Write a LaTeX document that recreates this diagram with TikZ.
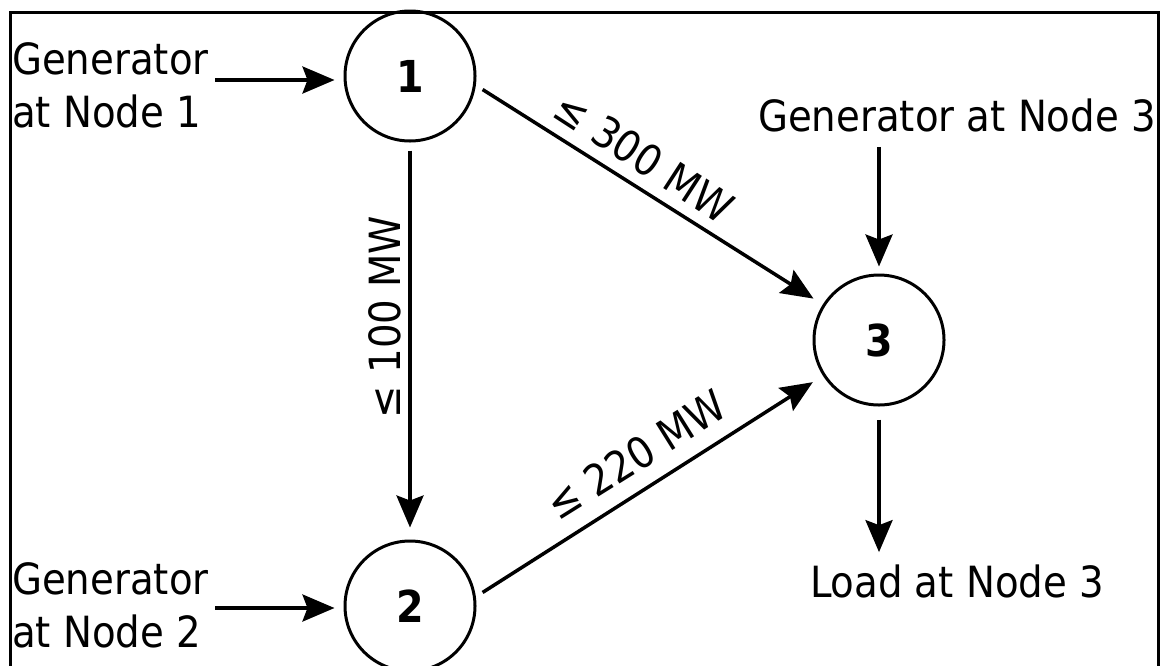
\documentclass[tikz,border=0pt]{standalone}
\usepackage{fontspec}
\setmainfont{DejaVu Sans Condensed}
\usetikzlibrary{arrows.meta}
\begin{document}
\begin{tikzpicture}[x=1pt,y=-1pt,
  bus/.style={circle,draw,line width=3pt,minimum size=130pt,inner sep=0pt,font=\fontsize{44}{44}\selectfont\bfseries},
  lbl/.style={font=\fontsize{43}{53}\selectfont,inner sep=0pt,align=left},
  txt/.style={font=\fontsize{43}{43}\selectfont,inner sep=0pt},
  arr/.style={line width=3.5pt,-{Stealth[length=32pt,width=27pt,inset=5pt]}}]
\useasboundingbox (0,0) rectangle (1161,665);
\draw[line width=3pt] (10,12) rectangle (1158,720);
\node[bus] (n1) at (410,76) {1};
\node[bus] (n2) at (410,606) {2};
\node[bus] (n3) at (879,340) {3};
\node[lbl,anchor=north west] (g1) at (12,42) {Generator\\at Node 1};
\node[lbl,anchor=north west] (g2) at (12,562) {Generator\\at Node 2};
\node[txt,anchor=base] (g3) at (957,131) {Generator at Node 3};
\node[txt,anchor=base] (ld) at (957,597) {Load at Node 3};
\coordinate (a1) at (215,80);
\coordinate (a2) at (215,608);
\draw[arr,shorten >=9pt] (a1) -- (n1.west |- a1);
\draw[arr,shorten >=9pt] (a2) -- (n2.west |- a2);
\draw[arr,shorten <=8pt,shorten >=12pt] (n1.south) -- (n2.north);
\draw[arr,shorten <=8pt,shorten >=11pt] (n1.-8) -- (n3);
\draw[arr,shorten <=8pt,shorten >=12pt] (n2.8) -- (n3);
\draw[arr,shorten <=15pt,shorten >=7pt] (g3.south -| n3) -- (n3.north);
\draw[arr,shorten <=13pt,shorten >=12pt] (n3.south) -- (ld.north -| n3);
\node[txt,rotate=-33] (l13) at (644,157) {≤ 300 MW};
\node[txt,rotate=90] (l12) at (385,317) {≤ 100 MW};
\node[txt,rotate=32] (l23) at (636,455) {≤ 220 MW};
\end{tikzpicture}
\end{document}
